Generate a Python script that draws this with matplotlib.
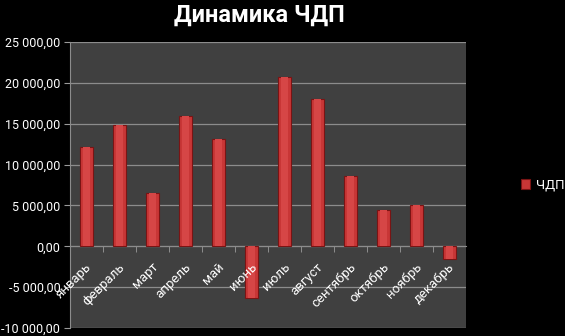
import matplotlib.pyplot as plt
import numpy as np
from matplotlib.ticker import FuncFormatter, FixedLocator

plt.rcParams['font.family'] = ['Roboto', 'DejaVu Sans']

months = ['январь', 'февраль', 'март', 'апрель', 'май', 'июнь',
          'июль', 'август', 'сентябрь', 'октябрь', 'ноябрь', 'декабрь']
chdp = [12100, 14800, 6550, 16000, 13100, -6300,
        20750, 18050, 8600, 4400, 5100, -1600]
series_name = 'ЧДП'
title = 'Динамика ЧДП'

fig = plt.figure(figsize=(5.65, 3.36), dpi=100, facecolor='black')
ax = fig.add_axes([70 / 565, 8 / 336, 396 / 565, 286 / 336])
ax.set_facecolor('#404040')

x = np.arange(len(months))
bars = ax.bar(x, chdp, width=0.4, color='#c83636', edgecolor='#7a1414',
              linewidth=0.8, label=series_name, zorder=3)
# soft highlight in the middle of each bar
ax.bar(x, chdp, width=0.2, color='#d64646', linewidth=0, zorder=4)

ax.set_xlim(-0.5, len(months) - 0.5)
ax.set_ylim(-10000, 25000)
ax.set_yticks(np.arange(-10000, 25001, 5000))

def fmt(v, pos):
    s = f'{abs(v):,.2f}'.replace(',', ' ').replace('.', ',')
    return ('-' if v < 0 else '') + s

ax.yaxis.set_major_formatter(FuncFormatter(fmt))
ax.tick_params(axis='y', colors='#9a9a9a', labelcolor='white', labelsize=9,
               length=4, direction='out', pad=3)
ax.grid(axis='y', color='#8c8c8c', linewidth=0.9, zorder=1)

# category axis crossing at zero
ax.spines['bottom'].set_position(('data', 0))
ax.spines['bottom'].set_color('#8c8c8c')
ax.spines['left'].set_color('#8c8c8c')
ax.spines['top'].set_visible(False)
ax.spines['right'].set_visible(False)
ax.xaxis.set_major_locator(FixedLocator(x))
ax.xaxis.set_minor_locator(FixedLocator(x[:-1] + 0.5))
ax.tick_params(axis='x', which='major', length=0, labelbottom=False)
ax.tick_params(axis='x', which='minor', length=4, color='#9a9a9a', direction='out')

for i, m in enumerate(months):
    ax.text(i + 0.1, -2300, m, rotation=45, rotation_mode='anchor',
            ha='right', va='center', color='white', fontsize=9.5, zorder=5)

fig.text(259 / 565, 0.955, title, ha='center', va='center', color='white',
         fontsize=17, fontweight='bold')

leg = fig.legend(handles=[bars], labels=[series_name], loc='center left',
                 bbox_to_anchor=(521 / 565, 1 - 185 / 336), frameon=False,
                 fontsize=9.5, handlelength=0.7, handleheight=0.7,
                 handletextpad=0.4, borderaxespad=0, borderpad=0)
for t in leg.get_texts():
    t.set_color('white')

fig.savefig('out.png', dpi=100, facecolor='black')
